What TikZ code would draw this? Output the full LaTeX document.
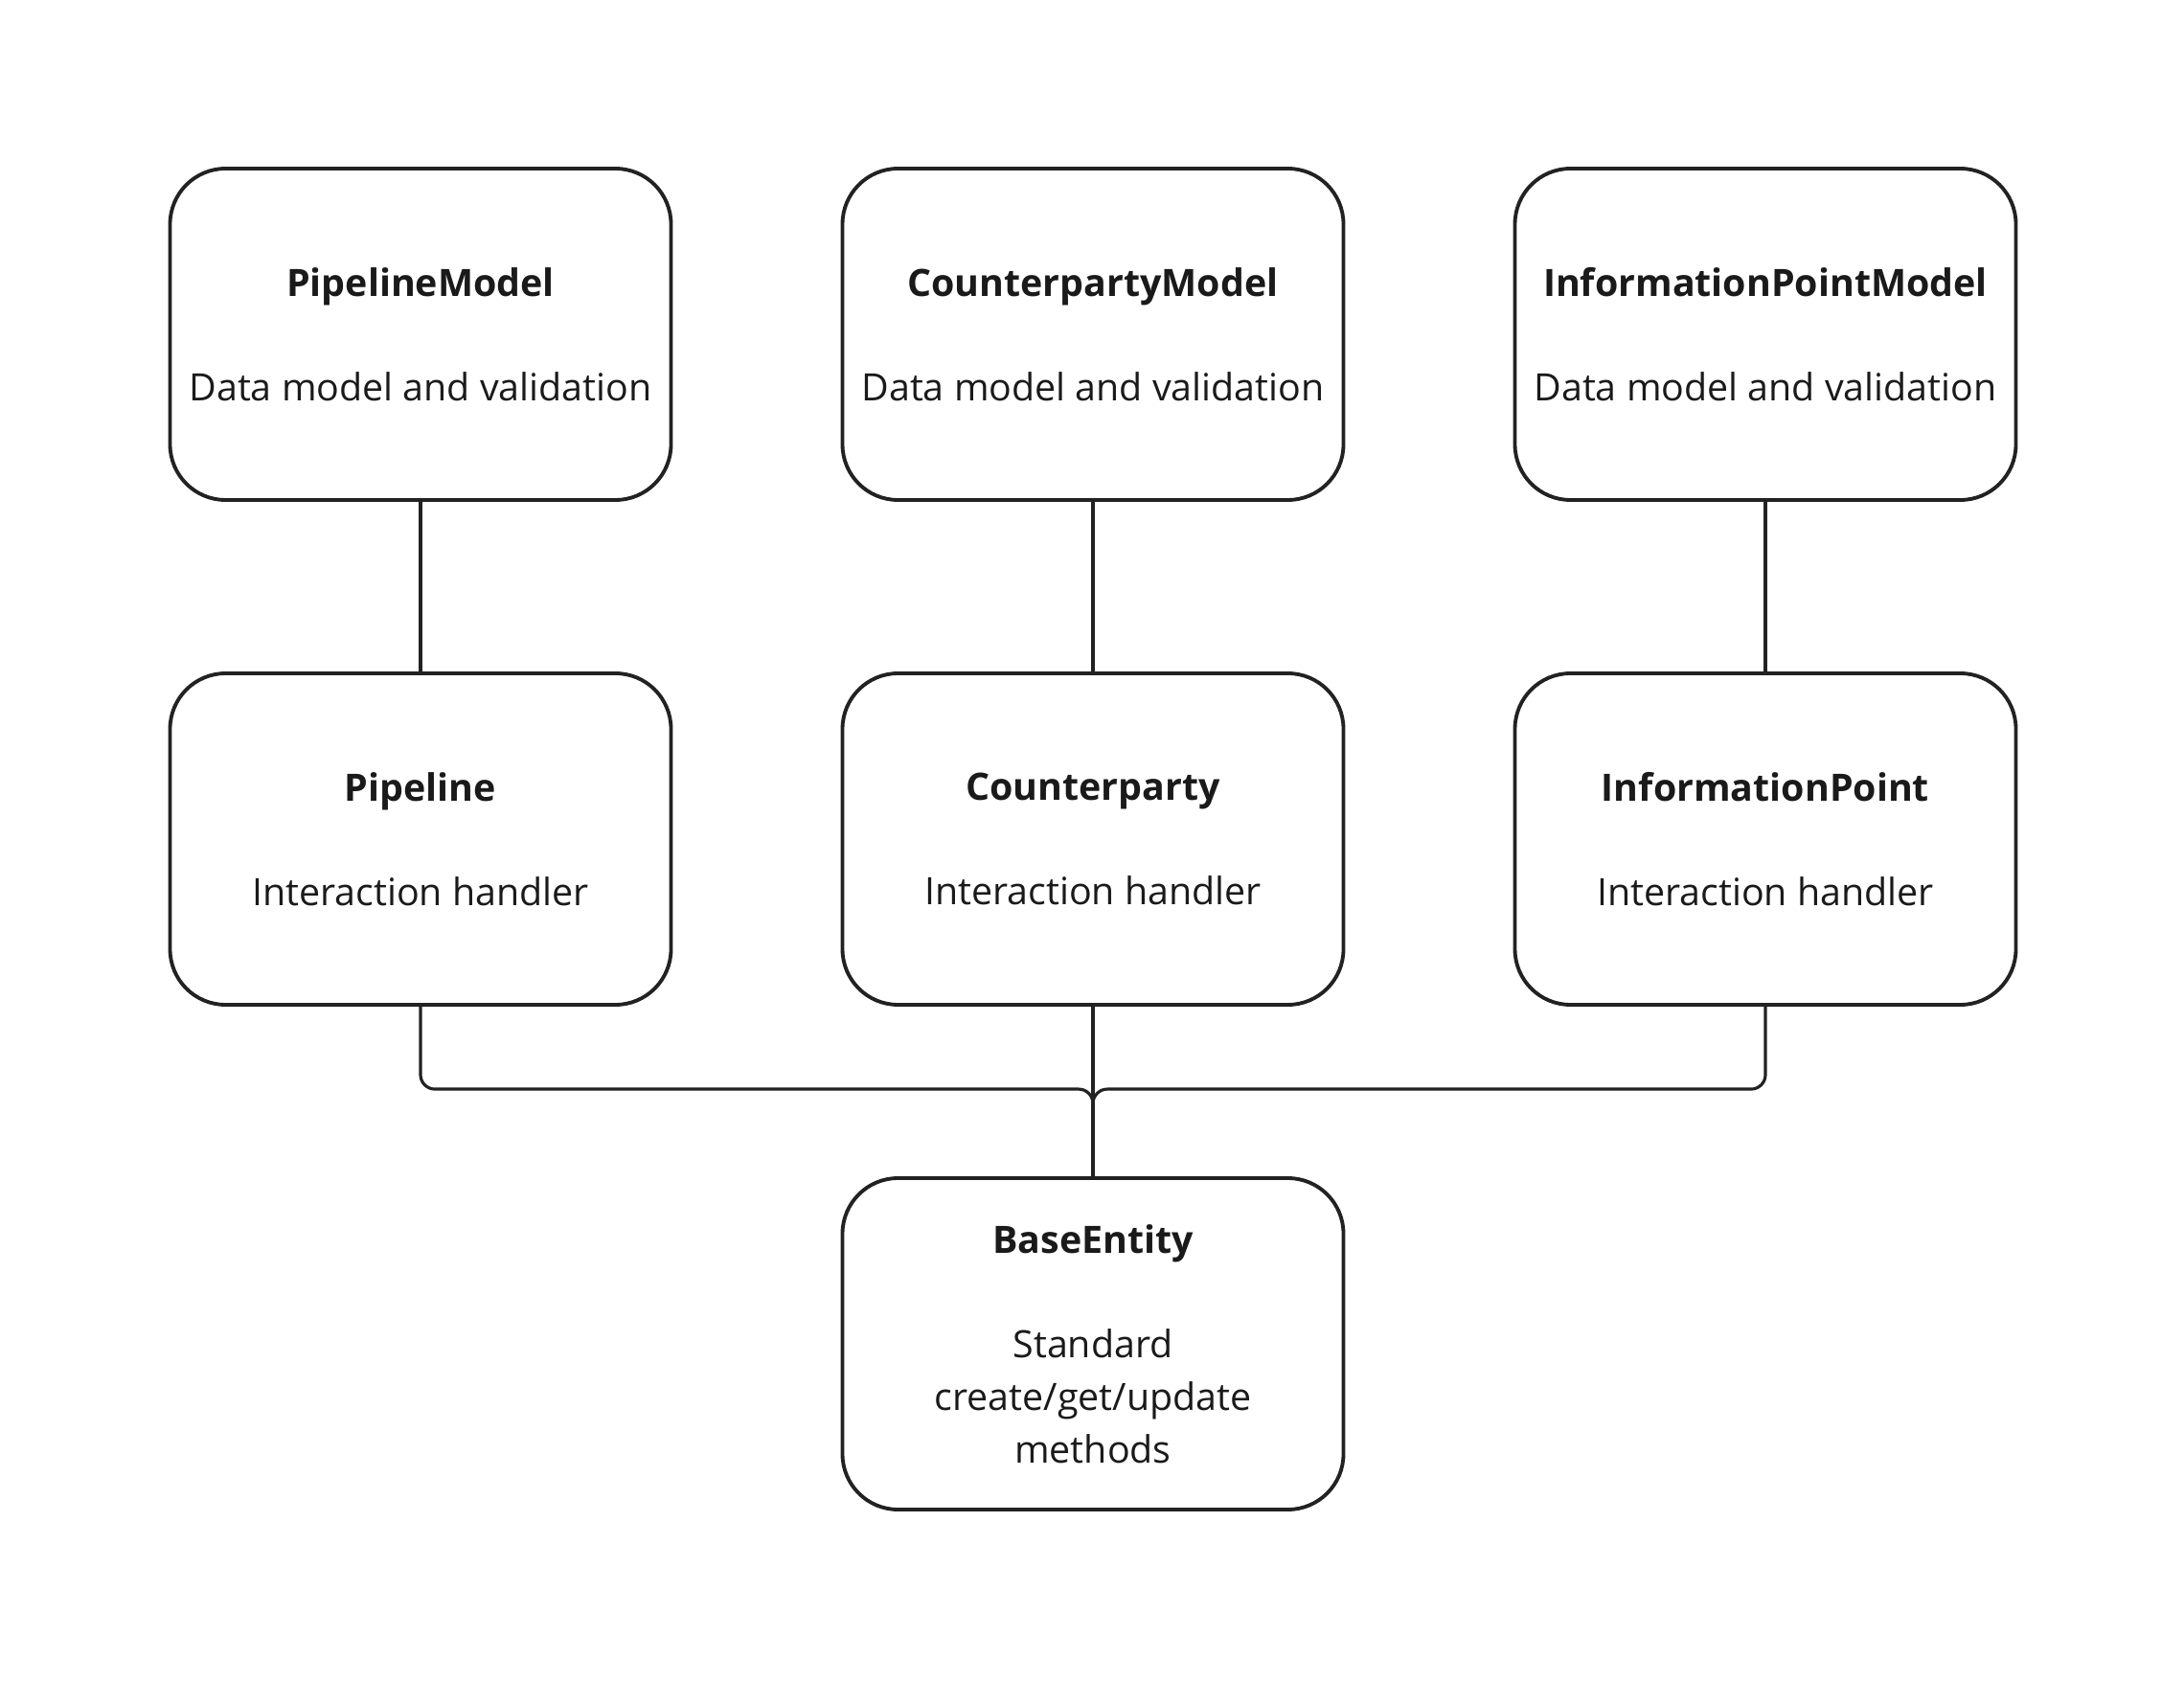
\documentclass[tikz,border=0pt]{standalone}
\usepackage{fontspec}
\setmainfont{Open Sans}
\definecolor{inkdark}{RGB}{26, 26, 26}
\definecolor{linedark}{RGB}{34, 34, 34}
\usetikzlibrary{positioning, calc}

\begin{document}
\begin{tikzpicture}[
  entity/.style={draw=linedark, line width=1.1pt, rounded corners=0.58cm, minimum width=5.23cm, minimum height=3.46cm, align=center, text=inkdark, font=\fontsize{11.2}{15.6}\selectfont, inner sep=0pt},
  link/.style={draw=linedark, line width=0.9pt}
]
  \useasboundingbox (0,0) rectangle (22.8,17.54);

  % Models
  \node[entity] (plmodel) at (4.39, 14.05) {\textbf{PipelineModel}\\[15.4pt]Data model and validation};
  \node[entity] (cpmodel) at (11.41, 14.05) {\textbf{CounterpartyModel}\\[15.4pt]Data model and validation};
  \node[entity] (ipmodel) at (18.43, 14.05) {\textbf{InformationPointModel}\\[15.4pt]Data model and validation};

  % Handlers
  \node[entity] (pipeline) at (4.39, 8.78) {\textbf{Pipeline}\\[15.4pt]Interaction handler};
  \node[entity] (counterparty) at (11.41, 8.78) {\textbf{Counterparty}\\[15.4pt]Interaction handler};
  \node[entity] (infopoint) at (18.43, 8.78) {\textbf{InformationPoint}\\[15.4pt]Interaction handler};

  % Base
  \node[entity] (base) at (11.41, 3.51) {\textbf{BaseEntity}\\[15.4pt]Standard\\create/get/update\\methods};

  \draw[link] (plmodel) -- (pipeline);
  \draw[link] (cpmodel) -- (counterparty);
  \draw[link] (ipmodel) -- (infopoint);

  \coordinate (bus) at ($(base.north)+(0,0.91)$);
  \draw[link] (counterparty) -- (base);
  \draw[link, rounded corners=0.15cm] (pipeline.south) |- (bus) -- (base.north);
  \draw[link, rounded corners=0.15cm] (infopoint.south) |- (bus) -- (base.north);
\end{tikzpicture}
\end{document}
